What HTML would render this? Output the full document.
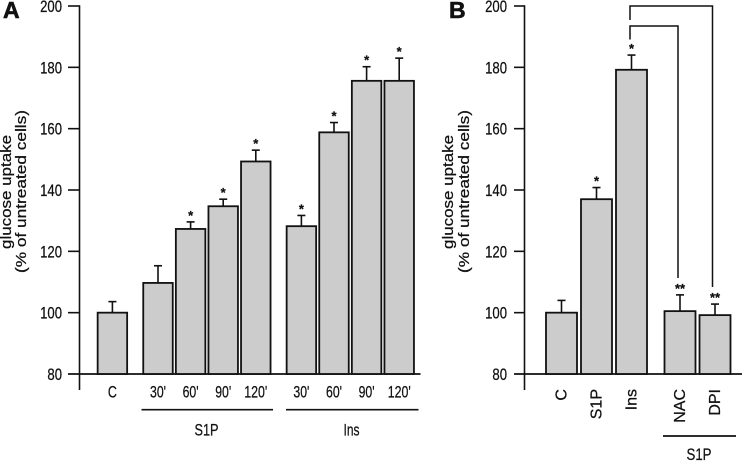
<!DOCTYPE html>
<html lang="en">
<head>
<meta charset="utf-8">
<title>Glucose uptake bar charts</title>
<style>
html,body{margin:0;padding:0;background:#fff}
svg{display:block}
text{font-family:"Liberation Sans",Arial,sans-serif;fill:#111;stroke:#111;stroke-width:.25}
</style>
</head>
<body>
<svg id="chart" xmlns="http://www.w3.org/2000/svg" width="742" height="461" viewBox="0 0 742 461">
  <text x="3" y="18" font-size="23" font-weight="bold" style="stroke-width:.6">A</text>
  <text x="449" y="18" font-size="23" font-weight="bold" style="stroke-width:.6">B</text>
  <text transform="translate(11,192) rotate(-90)" text-anchor="middle" font-size="14.5" textLength="114" lengthAdjust="spacingAndGlyphs">glucose uptake</text>
  <text transform="translate(26,191.5) rotate(-90)" text-anchor="middle" font-size="14.5" textLength="163" lengthAdjust="spacingAndGlyphs">(% of untreated cells)</text>
  <text transform="translate(453,192) rotate(-90)" text-anchor="middle" font-size="14.5" textLength="114" lengthAdjust="spacingAndGlyphs">glucose uptake</text>
  <text transform="translate(469,191.5) rotate(-90)" text-anchor="middle" font-size="14.5" textLength="163" lengthAdjust="spacingAndGlyphs">(% of untreated cells)</text>
  <line x1="141.5" x2="273" y1="409.7" y2="409.7" stroke="#111" stroke-width="1.7"/>
  <line x1="286" x2="418.5" y1="409.7" y2="409.7" stroke="#111" stroke-width="1.7"/>
  <text x="206.5" y="435.5" text-anchor="middle" font-size="16.5" textLength="24" lengthAdjust="spacingAndGlyphs">S1P</text>
  <text x="351.5" y="435.5" text-anchor="middle" font-size="16.5" textLength="16" lengthAdjust="spacingAndGlyphs">Ins</text>
  <line x1="663" x2="736" y1="436" y2="436" stroke="#111" stroke-width="1.7"/>
  <text x="699" y="460" text-anchor="middle" font-size="16.5" textLength="25" lengthAdjust="spacingAndGlyphs">S1P</text>
  <path d="M630 20V6H712.5V287" fill="none" stroke="#111" stroke-width="1.5"/>
  <path d="M630 39.5V26H678V278" fill="none" stroke="#111" stroke-width="1.5"/>
</svg>
<script>
var tickValues = [80, 100, 120, 140, 160, 180, 200];
var categoriesA = ["C", "30'", "60'", "90'", "120'", "30'", "60'", "90'", "120'"];
var groupsA = [0, 1, 1, 1, 1, 2, 2, 2, 2];
var valuesA = [100, 109.7, 127.3, 134.7, 149.3, 128.2, 158.8, 175.6, 175.6];
var errorTopsA = [103.6, 115.3, 129.6, 137, 153, 131.7, 162, 180.2, 183];
var starsA = ["", "", "*", "*", "*", "*", "*", "*", "*"];
var categoriesB = ["C", "S1P", "Ins", "NAC", "DPI"];
var groupsB = [0, 0, 0, 1, 1];
var valuesB = [100, 137, 179.2, 100.5, 99.2];
var errorTopsB = [104, 140.8, 184, 105.8, 102.8];
var starsB = ["", "*", "*", "**", "**"];

var svg = document.getElementById('chart');
var NS = 'http://www.w3.org/2000/svg';
function make(tag, attrs) {
  var el = document.createElementNS(NS, tag);
  for (var k in attrs) el.setAttribute(k, attrs[k]);
  svg.appendChild(el);
  return el;
}
function yScale(v) { return 374 - (v - 80) * (368 / 120); }
function xA(i) { return 112.4 + i * 32.6 + groupsA[i] * 13; }
function xB(i) { return 561.5 + i * 35 + groupsB[i] * 13.5; }

function drawAxes(prefix, axisX, left, right, labelRight) {
  var axis = make('line', {x1: axisX, x2: axisX, y1: 5.2, y2: 390, stroke: '#111', 'stroke-width': 1.6});
  
  
  tickValues.forEach(function (t) {
    var y = yScale(t);
    if (t === 80) {
      var base = make('line', {x1: left, x2: right, y1: y, y2: y, stroke: '#111', 'stroke-width': 1.8});
      
      
    } else {
      var tick = make('line', {x1: left, x2: axisX, y1: y, y2: y, stroke: '#111', 'stroke-width': 1.6});
      
      
    }
    var s = String(t);
    var lab = make('text', {x: labelRight, y: y + 6, 'text-anchor': 'end', 'font-size': 16.5, textLength: s.length * 7.3, lengthAdjust: 'spacingAndGlyphs'});
    lab.textContent = s;
    
    
  });
}

function drawBars(prefix, values, tops, stars, xFn, w) {
  values.forEach(function (v, i) {
    var cx = xFn(i), y = yScale(v), yErr = yScale(tops[i]);
    var stem = make('line', {x1: cx, x2: cx, y1: y, y2: yErr, stroke: '#111', 'stroke-width': 1.6});
    
    
    var cap = make('line', {x1: cx - 4, x2: cx + 4, y1: yErr, y2: yErr, stroke: '#111', 'stroke-width': 1.6});
    
    
    var bar = make('rect', {x: cx - w / 2, y: y, width: w, height: yScale(80) - y, fill: '#cccccc', stroke: '#111', 'stroke-width': 1.8});
    
    
    if (stars[i]) {
      var st = make('text', {x: cx, y: yErr - 2, 'text-anchor': 'middle', 'font-size': 13, 'font-weight': 'bold'});
      st.textContent = stars[i];
      
      
    }
  });
}

drawAxes('panel-a', 79.5, 68, 420.5, 62);
drawAxes('panel-b', 524.5, 514, 742, 507);
drawBars('panel-a', valuesA, errorTopsA, starsA, xA, 29.5);
drawBars('panel-b', valuesB, errorTopsB, starsB, xB, 31);

categoriesA.forEach(function (c, i) {
  var lab = make('text', {x: xA(i), y: 397.5, 'text-anchor': 'middle', 'font-size': 16.5, textLength: c.length === 1 ? 9 : (c.length === 3 ? 16 : 23), lengthAdjust: 'spacingAndGlyphs'});
  lab.textContent = c;
  
  
});
categoriesB.forEach(function (c, i) {
  var lab = make('text', {transform: 'translate(' + (xB(i) + 5) + ',389) rotate(-90)', 'text-anchor': 'end', 'font-size': 16});
  lab.textContent = c;
  
  
});
</script>
</body>
</html>
